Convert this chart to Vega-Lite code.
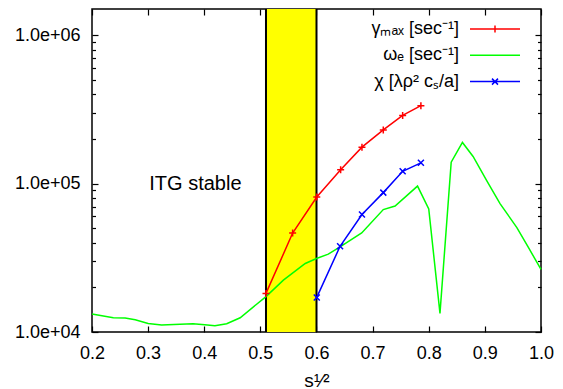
{
  "$schema": "https://vega.github.io/schema/vega-lite/v6.json",
  "width": 449,
  "height": 323,
  "autosize": "none",
  "padding": {"left": 92, "top": 9, "right": 22, "bottom": 57},
  "background": "white",
  "config": {
    "font": "Liberation Sans",
    "view": {"stroke": "black", "strokeWidth": 1.5},
    "axis": {"domain": false, "grid": false, "tickColor": "black", "tickWidth": 1.2, "labelColor": "black", "labelFont": "Liberation Sans", "labelFontSize": 18, "titleFont": "Liberation Sans", "titleFontSize": 19, "titleFontWeight": "normal", "titleColor": "black"},
    "legend": {"orient": "none", "legendX": 392, "legendY": 9, "padding": 0, "offset": 0, "symbolSize": 400, "symbolStrokeWidth": 1.5, "labelAlign": "right", "labelOffset": -47, "labelFont": "Liberation Sans", "labelFontSize": 18, "labelColor": "black", "labelLimit": 0, "rowPadding": 6.3}
  },
  "datasets": {
    "band": [{"x": 0.51, "x2": 0.6}],
    "edges": [{"x": 0.51}, {"x": 0.6}],
    "note": [{"label": "ITG stable", "x": 0.302, "y": 100000}],
    "all": [
      {"series": "γₘₐₓ [sec⁻¹]", "x": 0.51, "y": 18200},
      {"series": "γₘₐₓ [sec⁻¹]", "x": 0.5575, "y": 46400},
      {"series": "γₘₐₓ [sec⁻¹]", "x": 0.6005, "y": 81200},
      {"series": "γₘₐₓ [sec⁻¹]", "x": 0.643, "y": 124000},
      {"series": "γₘₐₓ [sec⁻¹]", "x": 0.681, "y": 176000},
      {"series": "γₘₐₓ [sec⁻¹]", "x": 0.719, "y": 230000},
      {"series": "γₘₐₓ [sec⁻¹]", "x": 0.7535, "y": 288000},
      {"series": "γₘₐₓ [sec⁻¹]", "x": 0.786, "y": 335000},
      {"series": "ωₑ [sec⁻¹]", "x": 0.2, "y": 13210},
      {"series": "ωₑ [sec⁻¹]", "x": 0.238, "y": 12475},
      {"series": "ωₑ [sec⁻¹]", "x": 0.259, "y": 12417},
      {"series": "ωₑ [sec⁻¹]", "x": 0.277, "y": 12096},
      {"series": "ωₑ [sec⁻¹]", "x": 0.3, "y": 11405},
      {"series": "ωₑ [sec⁻¹]", "x": 0.324, "y": 11143},
      {"series": "ωₑ [sec⁻¹]", "x": 0.357, "y": 11265},
      {"series": "ωₑ [sec⁻¹]", "x": 0.38, "y": 11370},
      {"series": "ωₑ [sec⁻¹]", "x": 0.401, "y": 11196},
      {"series": "ωₑ [sec⁻¹]", "x": 0.419, "y": 11023},
      {"series": "ωₑ [sec⁻¹]", "x": 0.44, "y": 11370},
      {"series": "ωₑ [sec⁻¹]", "x": 0.464, "y": 12475},
      {"series": "ωₑ [sec⁻¹]", "x": 0.51, "y": 17325},
      {"series": "ωₑ [sec⁻¹]", "x": 0.541, "y": 22360},
      {"series": "ωₑ [sec⁻¹]", "x": 0.58, "y": 28950},
      {"series": "ωₑ [sec⁻¹]", "x": 0.6, "y": 31280},
      {"series": "ωₑ [sec⁻¹]", "x": 0.621, "y": 33440},
      {"series": "ωₑ [sec⁻¹]", "x": 0.642, "y": 37440},
      {"series": "ωₑ [sec⁻¹]", "x": 0.6805, "y": 46480},
      {"series": "ωₑ [sec⁻¹]", "x": 0.719, "y": 66780},
      {"series": "ωₑ [sec⁻¹]", "x": 0.74, "y": 70600},
      {"series": "ωₑ [sec⁻¹]", "x": 0.78, "y": 96200},
      {"series": "ωₑ [sec⁻¹]", "x": 0.8, "y": 67400},
      {"series": "ωₑ [sec⁻¹]", "x": 0.82, "y": 13360},
      {"series": "ωₑ [sec⁻¹]", "x": 0.84, "y": 139500},
      {"series": "ωₑ [sec⁻¹]", "x": 0.86, "y": 189200},
      {"series": "ωₑ [sec⁻¹]", "x": 0.879, "y": 152300},
      {"series": "ωₑ [sec⁻¹]", "x": 0.903, "y": 105100},
      {"series": "ωₑ [sec⁻¹]", "x": 0.927, "y": 73280},
      {"series": "ωₑ [sec⁻¹]", "x": 0.957, "y": 50530},
      {"series": "ωₑ [sec⁻¹]", "x": 0.977, "y": 37440},
      {"series": "ωₑ [sec⁻¹]", "x": 1.0, "y": 26390},
      {"series": "χ [λρ² cₛ/a]", "x": 0.6005, "y": 17100},
      {"series": "χ [λρ² cₛ/a]", "x": 0.642, "y": 37800},
      {"series": "χ [λρ² cₛ/a]", "x": 0.681, "y": 61800},
      {"series": "χ [λρ² cₛ/a]", "x": 0.719, "y": 86900},
      {"series": "χ [λρ² cₛ/a]", "x": 0.7535, "y": 121000},
      {"series": "χ [λρ² cₛ/a]", "x": 0.786, "y": 138000}
    ]
  },
  "layer": [
    {
      "data": {"name": "band"},
      "mark": {"type": "rect", "color": "#ffff00"},
      "encoding": {
        "x": {"field": "x", "type": "quantitative", "scale": {"domain": [0.2, 1.0], "nice": false, "zero": false},
              "axis": {"orient": "bottom", "values": [0.2, 0.3, 0.4, 0.5, 0.6, 0.7, 0.8, 0.9, 1.0], "format": ".1f", "ticks": false, "labelPadding": 12, "labelFlush": false, "title": "s¹⁄²", "titleBaseline": "alphabetic", "titleY": 54}},
        "x2": {"field": "x2"}
      }
    },
    {
      "data": {"name": "edges"},
      "mark": {"type": "rule", "color": "black", "strokeWidth": 2},
      "encoding": {
        "x": {"field": "x", "type": "quantitative", "scale": {"domain": [0.2, 1.0], "nice": false, "zero": false},
              "axis": {"orient": "bottom", "values": [0.2, 0.3, 0.4, 0.5, 0.6, 0.7, 0.8, 0.9, 1.0], "labels": false, "tickSize": -6, "title": null}}
      }
    },
    {
      "data": {"name": "all"},
      "transform": [{"filter": "datum.series === 'ωₑ [sec⁻¹]'"}],
      "mark": {"type": "line", "color": "#00ff00", "strokeWidth": 1.5},
      "encoding": {
        "x": {"field": "x", "type": "quantitative", "scale": {"domain": [0.2, 1.0], "nice": false, "zero": false},
              "axis": {"orient": "top", "values": [0.2, 0.3, 0.4, 0.5, 0.6, 0.7, 0.8, 0.9, 1.0], "labels": false, "tickSize": -6, "title": null}},
        "y": {"field": "y", "type": "quantitative", "scale": {"type": "log", "domain": [10000, 1500000], "nice": false},
              "axis": {"orient": "left", "values": [10000, 100000, 1000000], "ticks": false, "labelPadding": 12, "labelExpr": "'1.0e+0' + round(log(datum.value) / LN10)", "title": null}}
      }
    },
    {
      "data": {"name": "all"},
      "transform": [{"filter": "datum.series === 'γₘₐₓ [sec⁻¹]'"}],
      "mark": {"type": "line", "color": "#ff0000", "strokeWidth": 1.5},
      "encoding": {
        "x": {"field": "x", "type": "quantitative", "axis": null},
        "y": {"field": "y", "type": "quantitative", "scale": {"type": "log", "domain": [10000, 1500000], "nice": false},
              "axis": {"orient": "left", "values": [10000, 100000, 1000000], "labels": false, "tickSize": -6, "title": null}}
      }
    },
    {
      "data": {"name": "all"},
      "transform": [{"filter": "datum.series === 'χ [λρ² cₛ/a]'"}],
      "mark": {"type": "line", "color": "#0000ff", "strokeWidth": 1.5},
      "encoding": {
        "x": {"field": "x", "type": "quantitative", "axis": null},
        "y": {"field": "y", "type": "quantitative", "scale": {"type": "log", "domain": [10000, 1500000], "nice": false},
              "axis": {"orient": "left", "values": [20000, 30000, 40000, 50000, 60000, 70000, 80000, 90000, 200000, 300000, 400000, 500000, 600000, 700000, 800000, 900000], "labels": false, "tickSize": -3.5, "title": null}}
      }
    },
    {
      "data": {"name": "all"},
      "transform": [{"filter": "datum.series === 'γₘₐₓ [sec⁻¹]'"}],
      "mark": {"type": "point", "shape": "M-1,0L1,0M0,-1L0,1", "size": 49, "filled": false, "color": "#ff0000", "strokeWidth": 1.5, "opacity": 1},
      "encoding": {
        "x": {"field": "x", "type": "quantitative", "axis": null},
        "y": {"field": "y", "type": "quantitative", "scale": {"type": "log", "domain": [10000, 1500000], "nice": false},
              "axis": {"orient": "right", "values": [10000, 100000, 1000000], "labels": false, "tickSize": -6, "title": null}}
      }
    },
    {
      "data": {"name": "all"},
      "transform": [{"filter": "datum.series === 'χ [λρ² cₛ/a]'"}],
      "mark": {"type": "point", "shape": "M-1,-1L1,1M-1,1L1,-1", "size": 36, "filled": false, "color": "#0000ff", "strokeWidth": 1.5, "opacity": 1},
      "encoding": {
        "x": {"field": "x", "type": "quantitative", "axis": null},
        "y": {"field": "y", "type": "quantitative", "scale": {"type": "log", "domain": [10000, 1500000], "nice": false},
              "axis": {"orient": "right", "values": [20000, 30000, 40000, 50000, 60000, 70000, 80000, 90000, 200000, 300000, 400000, 500000, 600000, 700000, 800000, 900000], "labels": false, "tickSize": -3.5, "title": null}}
      }
    },
    {
      "data": {"name": "note"},
      "mark": {"type": "text", "align": "left", "baseline": "middle", "fontSize": 20, "font": "Liberation Sans", "color": "black"},
      "encoding": {
        "x": {"field": "x", "type": "quantitative", "axis": null},
        "y": {"field": "y", "type": "quantitative", "axis": null},
        "text": {"field": "label"}
      }
    },
    {
      "data": {"name": "all"},
      "mark": {"type": "point", "filled": false, "opacity": 0, "strokeWidth": 1.5},
      "encoding": {
        "x": {"field": "x", "type": "quantitative", "axis": null},
        "y": {"field": "y", "type": "quantitative", "axis": null},
        "color": {"field": "series", "type": "nominal",
                  "scale": {"domain": ["γₘₐₓ [sec⁻¹]", "ωₑ [sec⁻¹]", "χ [λρ² cₛ/a]"], "range": ["#ff0000", "#00ff00", "#0000ff"]},
                  "legend": {"title": null, "symbolOpacity": 1}},
        "shape": {"field": "series", "type": "nominal",
                  "scale": {"domain": ["γₘₐₓ [sec⁻¹]", "ωₑ [sec⁻¹]", "χ [λρ² cₛ/a]"], "range": ["M-2.5,0L2.5,0M0,-0.35L0,0.35", "M-2.5,0L2.5,0", "M-2.5,0L2.5,0M-0.3,-0.3L0.3,0.3M-0.3,0.3L0.3,-0.3"]},
                  "legend": {"title": null, "symbolOpacity": 1}}
      }
    }
  ],
  "resolve": {"axis": {"x": "independent", "y": "independent"}}
}
